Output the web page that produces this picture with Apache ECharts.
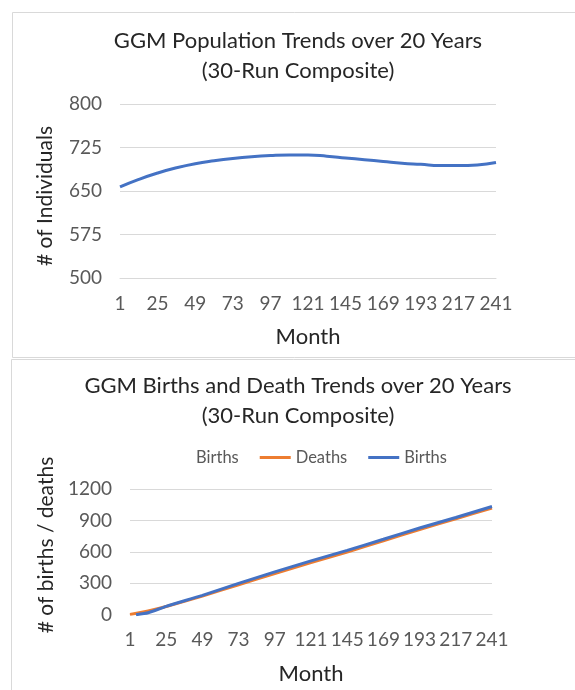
<!DOCTYPE html>
<html>
<head>
<meta charset="utf-8">
<script src="https://cdn.jsdelivr.net/npm/echarts@6/dist/echarts.min.js"></script>
<style>
html,body{margin:0;padding:0;background:#fff;}
#chart{width:575px;height:690px;}
</style>
</head>
<body>
<div id="chart"></div>
<script>
// ---- data ----
const topTitle = 'GGM Population Trends over 20 Years\n(30-Run Composite)';
const bottomTitle = 'GGM Births and Death Trends over 20 Years\n(30-Run Composite)';
const popMonths = [1, 13, 25, 37, 49, 61, 73, 85, 97, 109, 121, 133, 145, 157, 169, 181, 193, 205, 217, 229, 241];
const popValues = [657, 670, 681, 690, 697, 702, 706, 709, 711, 712, 712, 710, 707, 704, 701, 698, 696, 694, 694, 695, 699];
const deathMonths = [1, 13, 25, 49, 73, 97, 121, 145, 169, 193, 217, 241];
const deathValues = [3, 35, 78, 178, 287, 393, 498, 600, 707, 815, 918, 1020];
const birthMonths = [5, 13, 25, 49, 73, 97, 121, 145, 169, 193, 217, 241];
const birthValues = [0, 18, 80, 185, 300, 410, 515, 615, 722, 830, 930, 1035];
const popTicks = [500, 800, 75];      // min, max, interval
const bdTicks = [0, 1200, 300];       // min, max, interval
const monthCount = 241;

// categories 1..241
const months = [];
for (let m = 1; m <= monthCount; m++) months.push(String(m));
const pairs = (xs, ys) => xs.map((x, i) => [String(x), ys[i]]);

const FONT = 'Lato';
const labelColor = '#595959';
const gridColor = '#d9d9d9';

const chart = echarts.init(document.getElementById('chart'), null, {renderer: 'canvas'});

function xAxisCfg(gridIndex) {
  return {
    type: 'category', gridIndex: gridIndex, data: months, boundaryGap: false,
    name: 'Month', nameLocation: 'middle', nameGap: 48,
    nameTextStyle: {fontFamily: FONT, fontSize: 22, color: '#262626'},
    axisLine: {show: true, lineStyle: {color: gridColor, width: 1}},
    axisTick: {show: false},
    axisLabel: {interval: 23, margin: 16, fontFamily: FONT, fontSize: 19, color: labelColor}
  };
}
function yAxisCfg(gridIndex, t, name, gap, pad) {
  return {
    type: 'value', gridIndex: gridIndex, min: t[0], max: t[1], interval: t[2],
    name: name, nameLocation: 'middle', nameGap: gap,
    nameTextStyle: {fontFamily: FONT, fontSize: 21, color: '#262626', padding: pad},
    axisLine: {show: false}, axisTick: {show: false},
    axisLabel: {margin: 18, fontFamily: FONT, fontSize: 19, color: labelColor,
                formatter: function (v) { return String(v); }},
    splitLine: {show: true, lineStyle: {color: gridColor, width: 1}}
  };
}

const option = {
  backgroundColor: '#ffffff',
  animation: false,
  graphic: [
    {type: 'rect', shape: {x: 12.5, y: 12.5, width: 620, height: 345}, style: {fill: 'none', stroke: '#d9d9d9', lineWidth: 1}, silent: true},
    {type: 'rect', shape: {x: 11.5, y: 359.5, width: 620, height: 400}, style: {fill: 'none', stroke: '#d9d9d9', lineWidth: 1}, silent: true}
  ],
  title: [
    {text: topTitle, left: 298, top: 26, textAlign: 'center', padding: 0,
     textStyle: {fontFamily: FONT, fontSize: 22, fontWeight: 'normal', color: '#262626', lineHeight: 30}},
    {text: bottomTitle, left: 298, top: 371, textAlign: 'center', padding: 0,
     textStyle: {fontFamily: FONT, fontSize: 22, fontWeight: 'normal', color: '#262626', lineHeight: 30}}
  ],
  legend: {
    left: 160, top: 449, padding: 0, itemGap: 21, itemWidth: 31, itemHeight: 3,
    icon: 'rect',
    textStyle: {fontFamily: FONT, fontSize: 16.5, color: labelColor},
    data: [
      {name: 'Births (label)', itemStyle: {opacity: 0}},
      {name: 'Deaths', itemStyle: {color: '#ED7D31'}},
      {name: 'Births', itemStyle: {color: '#4472C4'}}
    ],
    formatter: function (n) { return n.indexOf('Births') === 0 ? 'Births' : n; }
  },
  grid: [
    {left: 120, top: 104, width: 376, height: 174},
    {left: 130, top: 489.3, width: 362, height: 125.4}
  ],
  xAxis: [xAxisCfg(0), xAxisCfg(1)],
  yAxis: [yAxisCfg(0, popTicks, '# of Individuals', 64, [0, 10, 0, 0]),
          yAxisCfg(1, bdTicks, '# of births / deaths', 61, [0, 0, 0, 14])],
  series: [
    {name: 'Population', type: 'line', xAxisIndex: 0, yAxisIndex: 0, data: pairs(popMonths, popValues),
     smooth: true, symbol: 'none', lineStyle: {color: '#4472C4', width: 3}, itemStyle: {color: '#4472C4'}},
    {name: 'Births (label)', type: 'line', xAxisIndex: 1, yAxisIndex: 1, data: [],
     symbol: 'none', lineStyle: {opacity: 0}, itemStyle: {opacity: 0}},
    {name: 'Deaths', type: 'line', xAxisIndex: 1, yAxisIndex: 1, data: pairs(deathMonths, deathValues),
     smooth: 0.2, symbol: 'none', lineStyle: {color: '#ED7D31', width: 3}, itemStyle: {color: '#ED7D31'}},
    {name: 'Births', type: 'line', xAxisIndex: 1, yAxisIndex: 1, data: pairs(birthMonths, birthValues),
     smooth: 0.2, symbol: 'none', lineStyle: {color: '#4472C4', width: 3}, itemStyle: {color: '#4472C4'}}
  ]
};
chart.setOption(option);
</script>
</body>
</html>
